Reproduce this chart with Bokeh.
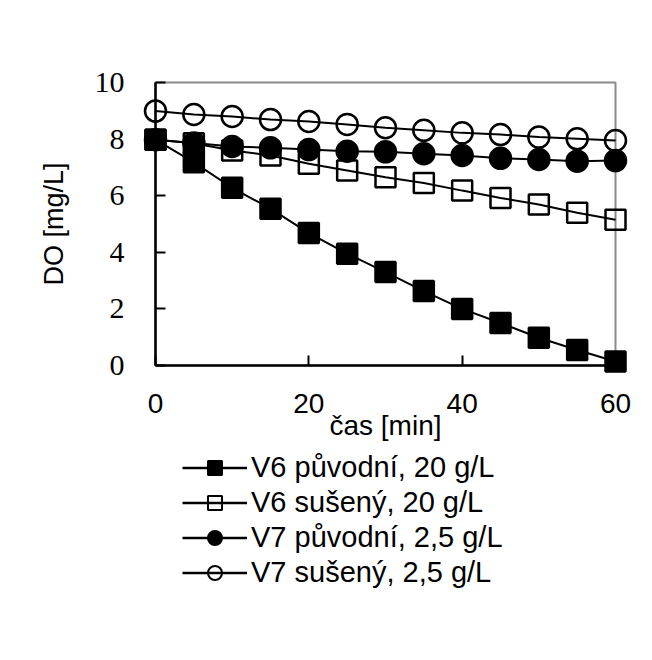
from bokeh.plotting import figure
from bokeh.layouts import column
from bokeh.models import Legend, LegendItem, FixedTicker, Range1d
from bokeh.embed import file_html
from bokeh.resources import INLINE

# ---- data ----
time_min = [0, 5, 10, 15, 20, 25, 30, 35, 40, 45, 50, 55, 60]
v6_puvodni = [7.98, 7.18, 6.28, 5.54, 4.68, 3.95, 3.30, 2.63, 2.00, 1.50, 0.98, 0.55, 0.14]
v6_suseny = [7.98, 7.85, 7.60, 7.42, 7.13, 6.89, 6.65, 6.45, 6.18, 5.92, 5.69, 5.40, 5.15]
v7_puvodni = [7.98, 7.86, 7.74, 7.69, 7.63, 7.57, 7.55, 7.48, 7.42, 7.32, 7.28, 7.22, 7.24]
v7_suseny = [8.99, 8.87, 8.80, 8.69, 8.62, 8.52, 8.40, 8.31, 8.22, 8.16, 8.07, 8.01, 7.95]

labels = ["V6 původní, 20 g/L", "V6 sušený, 20 g/L", "V7 původní, 2,5 g/L", "V7 sušený, 2,5 g/L"]
x_ticks = [0, 20, 40, 60]
y_ticks = [0, 2, 4, 6, 8, 10]

SANS = "Liberation Sans"
SERIF = "Liberation Serif"

p = figure(width=652, height=450, output_backend="svg", toolbar_location=None,
           x_range=Range1d(0, 60), y_range=Range1d(0, 10),
           min_border_left=155, min_border_right=37, min_border_top=82, min_border_bottom=85)
p.background_fill_color = "white"
p.border_fill_color = "white"
p.xgrid.visible = False
p.ygrid.visible = False
p.outline_line_color = "#8a8a8a"
p.outline_line_width = 2

for ax in (p.xaxis[0], p.yaxis[0]):
    ax.axis_line_color = "black"
    ax.axis_line_width = 2.5
    ax.major_tick_line_color = "black"
    ax.major_tick_line_width = 2
    ax.major_tick_in = 10
    ax.major_tick_out = 0
    ax.minor_tick_line_color = None
    ax.major_label_text_color = "black"
    ax.axis_label_text_color = "black"
    ax.axis_label_text_font_style = "normal"

p.xaxis.ticker = FixedTicker(ticks=x_ticks)
p.yaxis.ticker = FixedTicker(ticks=y_ticks)
p.xaxis.major_label_text_font = SANS
p.xaxis.major_label_text_font_size = "28px"
p.xaxis.major_label_standoff = 28
p.xaxis.axis_label = "čas [min]"
p.xaxis.axis_label_text_font = SANS
p.xaxis.axis_label_text_font_size = "28px"
p.xaxis.axis_label_standoff = -6

p.yaxis.major_label_text_font = SERIF
p.yaxis.major_label_text_font_size = "30px"
p.yaxis.major_label_standoff = 31
p.yaxis.axis_label = "DO [mg/L]"
p.yaxis.axis_label_text_font = SANS
p.yaxis.axis_label_text_font_size = "27px"
p.yaxis.axis_label_standoff = 23

series = [
    (v7_suseny, "circle", None, 21),
    (v6_suseny, "square", None, 20),
    (v7_puvodni, "circle", "black", 21),
    (v6_puvodni, "square", "black", 20),
]
for vals, marker, fill, size in series:
    p.line(time_min, vals, line_color="black", line_width=2, level="overlay")
    p.scatter(time_min, vals, marker=marker, size=size, fill_color=fill,
              line_color="black", line_width=2.5, level="overlay")

# ---- legend panel below the chart (hidden proxy renderers carry the legend glyphs) ----
lg = figure(width=652, height=210, output_backend="svg", toolbar_location=None,
            x_range=Range1d(0, 60), y_range=Range1d(0, 10),
            x_axis_location=None, y_axis_location=None, min_border=0)
lg.grid.visible = False
lg.outline_line_color = None
lg.background_fill_color = "white"
lg.border_fill_color = "white"

legend_series = [(v6_puvodni, "square", "black"), (v6_suseny, "square", None),
                 (v7_puvodni, "circle", "black"), (v7_suseny, "circle", None)]
legend_items = []
for label, (vals, marker, fill) in zip(labels, legend_series):
    ln = lg.line(time_min, vals, line_color="black", line_width=2.5, visible=False)
    sc = lg.scatter(time_min, vals, marker=marker, fill_color=fill, line_color="black",
                    line_width=2, visible=False)
    legend_items.append(LegendItem(label=label, renderers=[ln, sc]))

legend = Legend(items=legend_items, location=(27, 70),
                label_text_font=SANS, label_text_font_size="29px", label_text_color="black",
                glyph_width=65, glyph_height=35, label_height=35, spacing=0,
                label_standoff=4, padding=0, margin=0,
                inactive_fill_alpha=0,
                border_line_color=None, background_fill_alpha=0)
lg.add_layout(legend, "center")

layout = column(p, lg, spacing=0)
open("out.html", "w").write(file_html(layout, INLINE))
